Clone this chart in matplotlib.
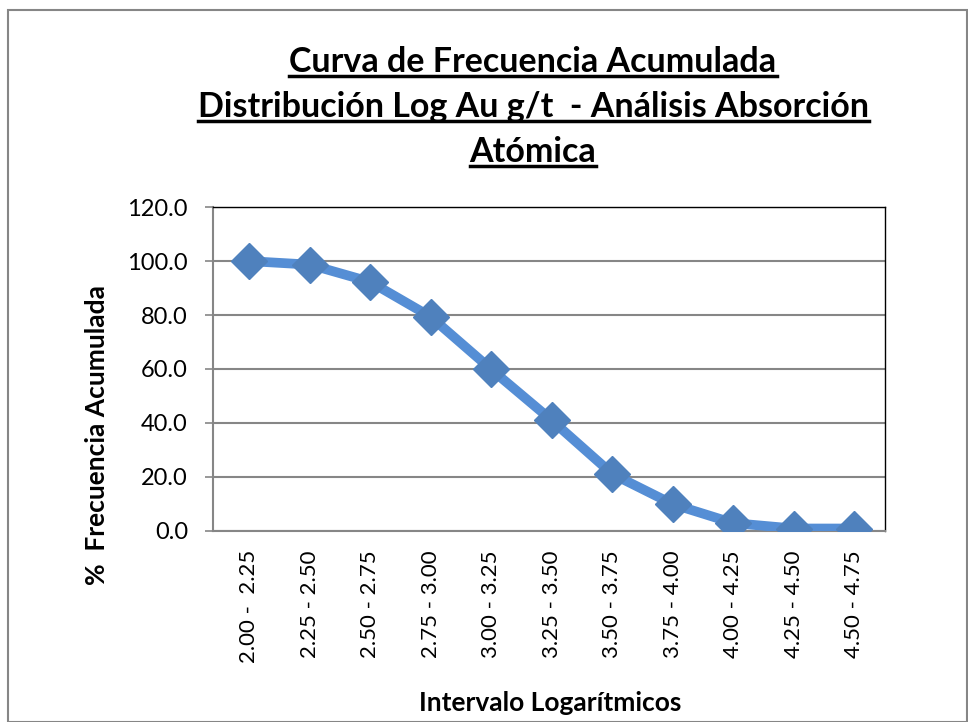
import matplotlib
matplotlib.use('Agg')
import matplotlib.pyplot as plt
from matplotlib.lines import Line2D
from matplotlib.patches import Rectangle

plt.rcParams['font.family'] = ['Lato', 'DejaVu Sans']

# datos
intervalos = ['2.00 -  2.25', '2.25 - 2.50', '2.50 - 2.75', '2.75 - 3.00', '3.00 - 3.25',
              '3.25 - 3.50', '3.50 - 3.75', '3.75 - 4.00', '4.00 - 4.25', '4.25 - 4.50',
              '4.50 - 4.75']
frec_acum = [100.0, 98.7, 92.3, 79.3, 59.8, 40.9, 21.0, 9.8, 2.8, 0.8, 0.8]
y_ticks = [0, 20, 40, 60, 80, 100, 120]

titulo = ['Curva de Frecuencia Acumulada',
          'Distribución Log Au g/t  - Análisis Absorción',
          'Atómica']

fig = plt.figure(figsize=(9.68, 7.22), dpi=100)
ax = fig.add_axes([0.22, 0.265, 0.694, 0.448])

x = list(range(len(intervalos)))
ax.plot(x, frec_acum, color='#558ED5', linewidth=7, marker='D', markersize=18,
        markerfacecolor='#4F81BD', markeredgecolor='#4F81BD', zorder=3)

ax.set_xlim(-0.6, len(intervalos) - 0.5)
ax.set_ylim(0, 120)
ax.set_yticks(y_ticks)
ax.set_yticklabels([f'{v:.1f}' for v in y_ticks], fontsize=17)
ax.set_xticks(x)
ax.set_xticklabels(intervalos, rotation=90, fontsize=16)
ax.tick_params(axis='x', length=0, pad=14)
ax.tick_params(axis='y', length=6, color='#868686', width=1.2, pad=12)
ax.yaxis.grid(True, color='#868686', linewidth=1.5)
ax.set_axisbelow(True)
for s in ['top', 'right']:
    ax.spines[s].set_color('black')
    ax.spines[s].set_linewidth(1)
for s in ['left', 'bottom']:
    ax.spines[s].set_color('#868686')
    ax.spines[s].set_linewidth(1.5)

fig.text(97 / 968, 1 - 435 / 722, '%  Frecuencia Acumulada', fontsize=19, fontweight='bold',
         rotation=90, ha='center', va='center')
fig.text(550 / 968, 1 - 703 / 722, 'Intervalo Logarítmicos', fontsize=19,
         fontweight='bold', ha='center', va='center')

# titulo subrayado
fig.canvas.draw()
renderer = fig.canvas.get_renderer()
ys = [62, 107, 152]
for linea, yy in zip(titulo, ys):
    t = fig.text(533 / 968, 1 - yy / 722, linea, fontsize=24.5, fontweight='bold',
                 ha='center', va='center')
    bb = t.get_window_extent(renderer).transformed(fig.transFigure.inverted())
    fig.add_artist(Line2D([bb.x0, bb.x1], [bb.y0 + 0.003, bb.y0 + 0.003],
                          transform=fig.transFigure, color='black', linewidth=2.5))

# borde del grafico
fig.add_artist(Rectangle((8 / 968, 0), 1 - 9 / 968, 1 - 10 / 722, transform=fig.transFigure,
                         fill=False, edgecolor='#868686', linewidth=1.5))

fig.savefig('out.png', dpi=100)
